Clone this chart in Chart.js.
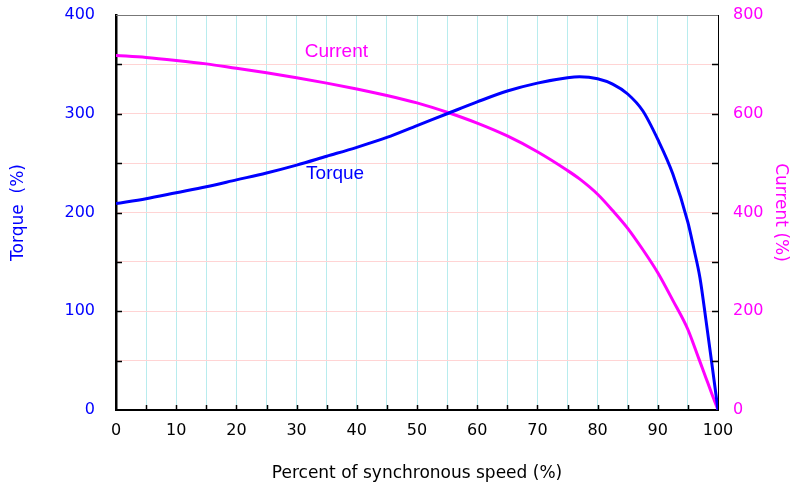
<!DOCTYPE html>
<html lang="en">
<head>
  <meta charset="UTF-8">
  <title>Torque and current vs speed</title>
  <script src="https://cdn.jsdelivr.net/npm/chart.js"></script>
  <style>
    body {
      margin: 0;
      background: #fff;
    }
    canvas {
      display: block;
    }
  </style>
</head>
<body>
  <canvas id="motorChart" width="791" height="489"></canvas>

  <script>
    // percent of synchronous speed
    const speed = [0, 5, 10, 15, 20, 25, 30, 35, 40, 45, 50, 55, 60, 65, 70, 75, 77, 80,
                   82.5, 85, 87.5, 90, 92.5, 95, 96, 97, 98, 99, 100];
    const torque = [209, 214, 220, 226, 233, 240, 248, 257, 266, 276, 288, 300, 312, 323, 331, 336.5, 337.5, 335.5,
                    330, 320, 303, 274, 239, 190, 163, 134, 91, 46, 0];
    const current = [718, 714, 708, 701, 692, 683, 673, 662, 650, 637, 622, 603, 581, 555, 523, 485, 468, 437,
                     404, 368, 325, 278, 222, 163, 131, 98, 65, 32, 0];

    const xTitle = "Percent of synchronous speed (%)";
    const torqueTitle = "Torque  (%)";
    const currentTitle = "Current (%)";

    const BLUE = "#0000ff";
    const MAGENTA = "#ff00ff";

    function pts(ys) {
      return speed.map((s, i) => ({ x: s, y: ys[i] }));
    }

    // fixed axis sizes so the plot area sits where the original one does
    function fixVertical(width) {
      return s => {
        s.width = width;
        s.paddingTop = 15;
        s.paddingBottom = 0;
      };
    }

    // inward tick marks, top frame line and the two curve labels
    const decorations = {
      id: "decorations",
      afterDraw(chart) {
        const ctx = chart.ctx;
        const a = chart.chartArea;
        const xs = chart.scales.x;
        const yl = chart.scales.y;
        const yr = chart.scales.y2;
        ctx.save();
        ctx.strokeStyle = "#777";
        ctx.lineWidth = 1;
        ctx.beginPath();
        ctx.moveTo(a.left, a.top + 0.5);
        ctx.lineTo(a.right, a.top + 0.5);
        ctx.stroke();

        ctx.strokeStyle = "#000";
        ctx.lineWidth = 1.5;
        ctx.beginPath();
        for (let v = 5; v < 100; v += 5) {
          const px = Math.round(xs.getPixelForValue(v)) + 0.5;
          ctx.moveTo(px, a.bottom);
          ctx.lineTo(px, a.bottom - 5);
        }
        for (let v = 50; v < 400; v += 50) {
          const py = Math.round(yl.getPixelForValue(v)) + 0.5;
          ctx.moveTo(a.left, py);
          ctx.lineTo(a.left + 6, py);
        }
        for (let v = 100; v < 800; v += 100) {
          const py = Math.round(yr.getPixelForValue(v)) + 0.5;
          ctx.moveTo(a.right, py);
          ctx.lineTo(a.right - 6, py);
        }
        ctx.stroke();

        ctx.font = "19px 'Liberation Sans', Arial, sans-serif";
        ctx.textAlign = "center";
        ctx.textBaseline = "middle";
        ctx.fillStyle = MAGENTA;
        ctx.fillText("Current", xs.getPixelForValue(36.6), yl.getPixelForValue(363));
        ctx.fillStyle = BLUE;
        ctx.fillText("Torque", xs.getPixelForValue(36.4), yl.getPixelForValue(239));
        ctx.restore();
      }
    };

    const tickFont = { family: "'DejaVu Sans', Verdana, sans-serif", size: 16 };
    const titleFont = { family: "'DejaVu Sans', Verdana, sans-serif", size: 17 };

    new Chart(document.getElementById("motorChart"), {
      type: "line",
      data: {
        datasets: [
          {
            label: "Torque",
            data: pts(torque),
            yAxisID: "y",
            borderColor: BLUE,
            borderWidth: 3,
            pointRadius: 0,
            cubicInterpolationMode: "monotone",
            fill: false
          },
          {
            label: "Current",
            data: pts(current),
            yAxisID: "y2",
            borderColor: MAGENTA,
            borderWidth: 3,
            pointRadius: 0,
            cubicInterpolationMode: "monotone",
            fill: false
          }
        ]
      },
      options: {
        responsive: false,
        animation: false,
        layout: { padding: { top: 15, left: 0, right: 0, bottom: 0 } },
        plugins: {
          legend: { display: false },
          tooltip: { enabled: false }
        },
        scales: {
          x: {
            type: "linear",
            min: 0,
            max: 100,
            afterFit: s => { s.height = 79; },
            ticks: {
              stepSize: 5,
              color: "#000",
              font: tickFont,
              padding: 11,
              maxRotation: 0,
              autoSkip: false,
              callback: v => (v % 10 === 0 ? v : "")
            },
            grid: { color: "#b8ecee", lineWidth: 1, drawTicks: false },
            border: { color: "#000", width: 2 },
            title: {
              display: true,
              text: xTitle,
              color: "#000",
              font: titleFont,
              padding: { top: 0, bottom: 5 }
            }
          },
          y: {
            position: "left",
            min: 0,
            max: 400,
            afterFit: fixVertical(116),
            ticks: {
              stepSize: 50,
              color: BLUE,
              font: tickFont,
              padding: 21,
              callback: v => (v % 100 === 0 ? v : "")
            },
            grid: { color: "#ffd4d4", lineWidth: 1, drawTicks: false },
            border: { color: "#000", width: 2.5 },
            title: {
              display: true,
              text: torqueTitle,
              color: BLUE,
              font: titleFont,
              padding: { top: 8, bottom: 0 }
            }
          },
          y2: {
            position: "right",
            min: 0,
            max: 800,
            afterFit: fixVertical(73),
            ticks: {
              stepSize: 100,
              color: MAGENTA,
              font: tickFont,
              padding: 15,
              callback: v => (v % 200 === 0 ? v : "")
            },
            grid: { display: false, drawTicks: false },
            border: { color: "#000", width: 1 },
            title: {
              display: true,
              text: currentTitle,
              color: MAGENTA,
              font: titleFont,
              padding: { top: 0, bottom: 0 }
            }
          }
        }
      },
      plugins: [decorations]
    });
  </script>
</body>
</html>
